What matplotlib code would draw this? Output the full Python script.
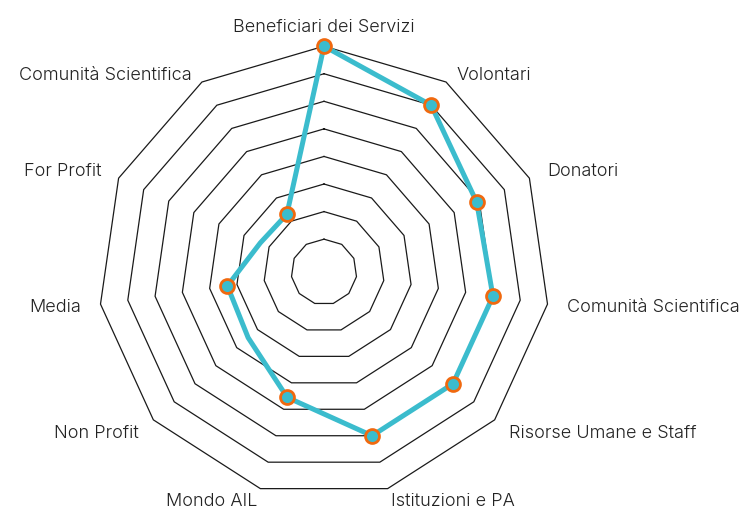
#!/usr/bin/env python3
# -*- coding: utf-8 -*-

import numpy as np
import matplotlib
matplotlib.use("Agg")
import matplotlib.pyplot as plt

categories = [
    "Beneficiari dei Servizi", "Volontari", "Donatori", "Comunità Scientifica",
    "Risorse Umane e Staff", "Istituzioni e PA", "Mondo AIL", "Non Profit",
    "Media", "For Profit", "Comunità Scientifica",
]
values = [8, 7, 5.9, 6, 6, 6, 4.55, 3.45, 3.35, 2.35, 2.3]
ring_levels = [1, 2, 3, 4, 5, 6, 7, 8]
no_marker = ["Non Profit", "For Profit"]

LINE = "#3bbccd"
EDGE = "#f0690f"


def main():
    plt.rcParams["font.family"] = ["Inter", "DejaVu Sans"]
    fig = plt.figure(figsize=(7.45, 5.10), dpi=100)
    ax = fig.add_axes([0.1318, 0.022, 0.6062, 0.8855], projection="polar")
    ax.set_theta_zero_location("N")
    ax.set_theta_direction(-1)

    n = len(categories)
    theta = np.linspace(0, 2 * np.pi, n, endpoint=False)
    theta_c = np.append(theta, theta[0])

    # polygon rings
    for lev in ring_levels:
        ax.plot(theta_c, [lev] * (n + 1), color="#1a1a1a", lw=0.9,
                zorder=1, clip_on=False)

    vals = np.append(values, values[0])
    marks = [i for i, c in enumerate(categories) if c not in no_marker]
    ax.plot(theta_c, vals, color=LINE, lw=3.6, zorder=3, clip_on=False,
            solid_joinstyle="round")
    ax.plot(theta[marks], np.array(values)[marks], "o", ms=10,
            mfc=LINE, mec=EDGE, mew=2.0, zorder=4, clip_on=False)

    # labels outside the outer ring
    top = max(ring_levels)
    for t, name in zip(theta, categories):
        s, c = np.sin(t), np.cos(t)
        if s > 0.1:
            ha = "left"
        elif s < -0.1:
            ha = "right"
        else:
            ha = "center"
        va = "top" if 0.5 < c < 0.95 else "center"
        r_lab = top + 0.45 if c < -0.9 else top + 0.7
        ax.text(t, r_lab, name, ha=ha, va=va, fontsize=13, fontweight=300,
                color="#222222")

    ax.set_ylim(-0.19, 8)
    ax.set_xticks([])
    ax.set_yticks([])
    ax.grid(False)
    ax.spines["polar"].set_visible(False)
    ax.patch.set_visible(False)

    fig.savefig("out.png", dpi=100)


if __name__ == '__main__':
    main()
